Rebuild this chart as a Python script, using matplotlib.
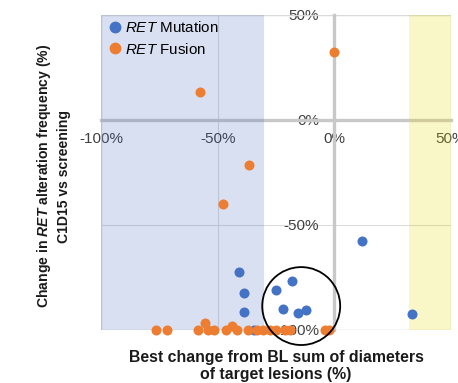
import matplotlib
matplotlib.use("Agg")
import matplotlib.pyplot as plt
from matplotlib.patches import Ellipse, Rectangle
from matplotlib.lines import Line2D

plt.rcParams['font.family'] = ['Liberation Sans', 'DejaVu Sans']
plt.rcParams['mathtext.fontset'] = 'custom'
plt.rcParams['mathtext.rm'] = 'Liberation Sans'
plt.rcParams['mathtext.it'] = 'Liberation Sans:italic'
plt.rcParams['mathtext.bf'] = 'Liberation Sans:bold'
plt.rcParams['mathtext.bfit'] = 'Liberation Sans:italic:bold'

# best change in target lesions (%) vs change in RET alteration frequency (%)
mut_x = [-40.7, -38.6, -38.6, -34.5, -24.9, -18.0, -21.9, -15.4, -12.0, 12.0, 33.4]
mut_y = [-72.4, -82.4, -91.4, -100.0, -81.0, -76.7, -90.0, -91.9, -90.5, -57.6, -92.4]

fus_x = [-57.4, 0.0, -36.4, -47.6,
         -76.3, -71.6, -58.3, -55.3, -54.0, -51.4, -46.3, -43.7, -41.6,
         -36.9, -33.0, -30.4, -27.4, -24.9, -21.0, -18.9, -3.9, -2.1]
fus_y = [13.3, 32.4, -21.4, -40.0,
         -100, -100, -100, -96.7, -100, -100, -100, -98.1, -100,
         -100, -100, -100, -100, -100, -100, -100, -100, -100]

ticks = [-100, -50, 0, 50]
tick_labels = ["-100%", "-50%", "0%", "50%"]

blue = "#4472c4"
orange = "#ed7d31"
grey_txt = "#404040"


def solve():
    fig = plt.figure(figsize=(4.58, 3.83), dpi=100)
    ax = fig.add_axes([101 / 458, 1 - 330 / 383, 350 / 458, 315 / 383])
    ax.set_xlim(-100, 50)
    ax.set_ylim(-100, 50)

    # response bands
    ax.axvspan(-100, -30, color="#4466bb", alpha=0.2, lw=0, zorder=2.6)
    ax.axvspan(32, 50, color="#e8d800", alpha=0.22, lw=0, zorder=2.6)

    # axes cross at zero
    for s in ["top", "right"]:
        ax.spines[s].set_visible(False)
    ax.spines["left"].set_position(("data", 0))
    ax.spines["bottom"].set_position(("data", 0))
    for s in ["left", "bottom"]:
        ax.spines[s].set_color("#c8c8c8")
        ax.spines[s].set_linewidth(2.4)
    ax.add_patch(Rectangle((0, 0), 1, 1, transform=ax.transAxes, fill=False,
                           ec="#d9d9d9", lw=1, zorder=2.4))

    ax.set_xticks(ticks)
    ax.set_xticklabels(tick_labels)
    ax.set_yticks(ticks)
    ax.set_yticklabels(tick_labels)
    ax.tick_params(length=0, labelsize=11, labelcolor=grey_txt)
    ax.tick_params(axis="x", pad=9)
    ax.tick_params(axis="y", pad=11)
    ax.grid(True, color="#dcdcdc", lw=0.8)
    ax.set_axisbelow(True)

    ax.scatter(mut_x, mut_y, s=52, color=blue, lw=0, zorder=5, clip_on=False)
    ax.scatter(fus_x, fus_y, s=52, color=orange, lw=0, zorder=5, clip_on=False)

    ax.add_patch(Ellipse((-14.2, -88.6), 33.4, 37.1, fill=False, ec="black",
                         lw=1.3, zorder=6, clip_on=False))

    handles = [Line2D([], [], marker="o", ls="", color=blue, markersize=7.5),
               Line2D([], [], marker="o", ls="", color=orange, markersize=7.5)]
    ax.legend(handles, [r"$\mathit{RET}$ Mutation", r"$\mathit{RET}$ Fusion"],
              loc="upper left", frameon=False, fontsize=10.9,
              handletextpad=0.05, borderpad=0.2, labelspacing=0.42,
              handlelength=1.2, borderaxespad=0.15)

    fig.text(53 / 458, 1 - 176 / 383,
             "Change in $\\mathbfit{RET}$ alteration frequency (%)\nC1D15 vs screening",
             rotation=90, ha="center", va="center", fontsize=10.1,
             fontweight="bold", color="#1a1a1a", linespacing=1.3)
    fig.text(276 / 458, 1 - 366 / 383,
             "Best change from BL sum of diameters\nof target lesions (%)",
             ha="center", va="center", fontsize=11.4, fontweight="bold",
             color="#1a1a1a", linespacing=1.2)

    fig.savefig("out.png", dpi=100)


def main():
    solve()


if __name__ == "__main__":
    main()
